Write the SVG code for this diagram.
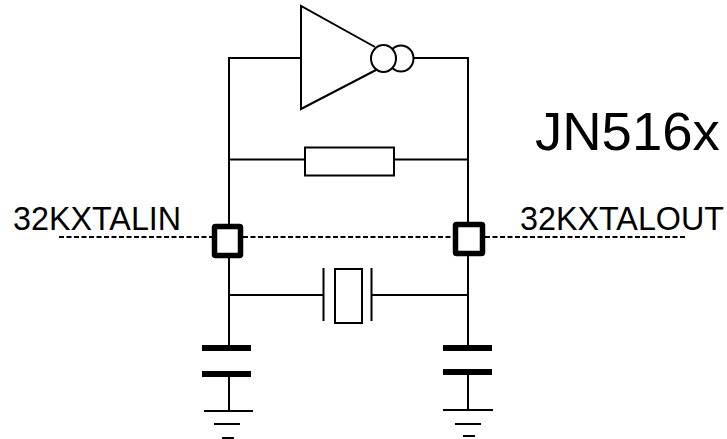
<svg xmlns="http://www.w3.org/2000/svg" width="727" height="439" viewBox="0 0 727 439">
<style>
.w{fill:none;stroke:#000;stroke-width:2}
.f{fill:#fff;stroke:#000;stroke-width:2}
.d{fill:none;stroke:#000;stroke-width:2;stroke-dasharray:5 2.5}
.pad{fill:#fff;stroke:#000;stroke-width:5.5;stroke-linejoin:round}
.plate{fill:#000;stroke:none}
text{font-family:"Liberation Sans",Arial,sans-serif;fill:#000}
.l{font-size:32.300px}
.t{font-size:54.500px}
</style>
<rect width="727" height="439" fill="#fff"/>
<g id="connectors">
<path class="w" d="M301 58H229V345M413 58H468V345M229 159.500H305M394 159.500H468M229 295H323M372 295H468M229 377V411M468 375V410"/>
<path class="d" d="M59 237H212M243 237H453M485 237H686"/>
</g>
<g id="inverter">
<path class="w" d="M375 47L301 6V109L376 70"/>
<ellipse class="f" cx="401" cy="58.500" rx="12.500" ry="13"/>
<ellipse class="f" cx="383.500" cy="58.500" rx="12.500" ry="13.500"/>
</g>
<g id="resistor"><rect class="f" x="305" y="147.500" width="89" height="28"/></g>
<g id="pad-in"><rect class="pad" x="214.500" y="226.500" width="26" height="29" rx="1"/></g>
<g id="pad-out"><rect class="pad" x="455.500" y="224.500" width="27" height="29" rx="1"/></g>
<g id="crystal">
<path class="w" d="M323.500 268V321M371.500 268V321"/>
<rect class="f" x="335" y="269" width="27" height="54"/>
</g>
<g id="cap-left"><rect class="plate" x="202" y="345" width="49" height="6"/><rect class="plate" x="202" y="371" width="49" height="6"/></g>
<g id="cap-right"><rect class="plate" x="443" y="345" width="49" height="6"/><rect class="plate" x="443" y="369" width="49" height="6"/></g>
<g id="gnd-left"><path class="w" d="M204 411H253M214 424H240M222 438H234"/></g>
<g id="gnd-right"><path class="w" d="M443 410H493M455 424H481M463 436H475"/></g>
<g id="label-in"><text class="l" x="13" y="230">32KXTALIN</text></g>
<g id="label-out"><text class="l" x="520" y="230">32KXTALOUT</text></g>
<g id="title"><text class="t" x="535" y="150">JN516x</text></g>
</svg>
